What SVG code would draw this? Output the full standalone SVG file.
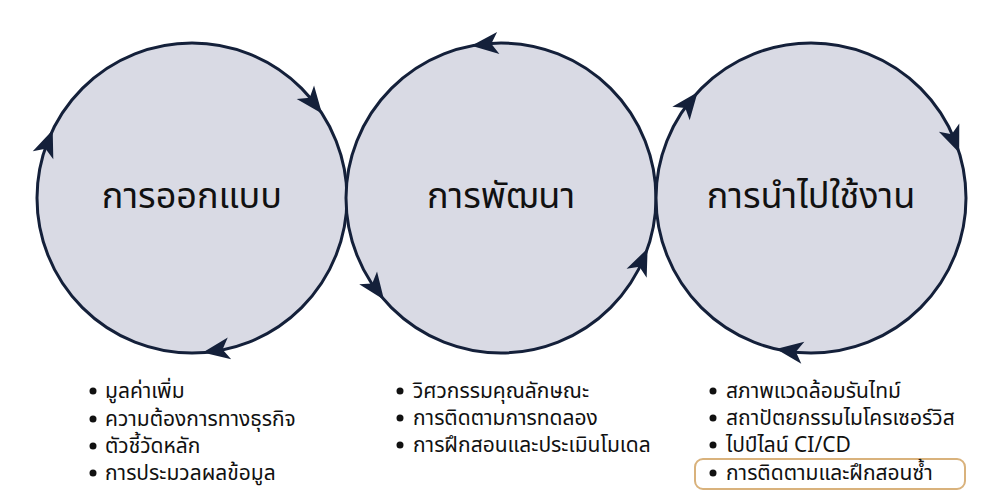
<svg xmlns="http://www.w3.org/2000/svg" width="1000" height="500" viewBox="0 0 1000 500">
<style>
.c{fill:#d9dae4;stroke:#14203a;stroke-width:3}
.t{font-family:"Noto Sans Thai","Noto Sans","Noto Sans CJK SC",sans-serif;fill:#111;}
.title{font-size:36px;text-anchor:middle}
.li{font-size:21px}
.dot{fill:#111}
.hl{fill:none;stroke:#d9b27c;stroke-width:2}
</style>
<defs>
<path id="ah" d="M0,0 L-27,-11 L-20,0 L-27,11 Z" fill="#14203a"/>
</defs>
<rect width="1000" height="500" fill="#ffffff"/>
<g id="node-design">
<circle class="c" cx="192" cy="198" r="155"/>
<text class="t title" x="192" y="208">การออกแบบ</text>
</g>
<g id="node-develop">
<circle class="c" cx="501" cy="198" r="155"/>
<text class="t title" x="501" y="208">การพัฒนา</text>
</g>
<g id="node-deploy">
<circle class="c" cx="811" cy="198" r="155"/>
<text class="t title" x="811" y="208">การนำไปใช้งาน</text>
</g>
<g id="connectors">
<use href="#ah" transform="translate(322,113.6) rotate(52)"/>
<use href="#ah" transform="translate(52.7,130) rotate(291)"/>
<use href="#ah" transform="translate(202.8,352.6) rotate(171)"/>
<use href="#ah" transform="translate(471.4,45.8) rotate(174)"/>
<use href="#ah" transform="translate(384,299.7) rotate(54)"/>
<use href="#ah" transform="translate(647.6,248.5) rotate(-66)"/>
<use href="#ah" transform="translate(697.6,92.3) rotate(-52)"/>
<use href="#ah" transform="translate(959.2,152.7) rotate(68)"/>
<use href="#ah" transform="translate(776.1,349) rotate(188)"/>
</g>
<g id="list-design">
<circle class="dot" cx="93" cy="391" r="3.5"/>
<circle class="dot" cx="93" cy="419" r="3.5"/>
<circle class="dot" cx="93" cy="446" r="3.5"/>
<circle class="dot" cx="93" cy="473" r="3.5"/>
<text class="t li" x="105" y="398">มูลค่าเพิ่ม</text>
<text class="t li" x="105" y="426">ความต้องการทางธุรกิจ</text>
<text class="t li" x="105" y="453">ตัวชี้วัดหลัก</text>
<text class="t li" x="105" y="480">การประมวลผลข้อมูล</text>
</g>
<g id="list-develop">
<circle class="dot" cx="400" cy="391" r="3.5"/>
<circle class="dot" cx="400" cy="418" r="3.5"/>
<circle class="dot" cx="400" cy="445" r="3.5"/>
<text class="t li" x="413" y="398">วิศวกรรมคุณลักษณะ</text>
<text class="t li" x="413" y="425">การติดตามการทดลอง</text>
<text class="t li" x="413" y="452">การฝึกสอนและประเมินโมเดล</text>
</g>
<g id="list-deploy">
<rect class="hl" x="695" y="459" width="270" height="30" rx="8"/>
<circle class="dot" cx="713" cy="391" r="3.5"/>
<circle class="dot" cx="713" cy="418" r="3.5"/>
<circle class="dot" cx="713" cy="445" r="3.5"/>
<circle class="dot" cx="713" cy="473" r="3.5"/>
<text class="t li" x="726" y="398">สภาพแวดล้อมรันไทม์</text>
<text class="t li" x="726" y="425">สถาปัตยกรรมไมโครเซอร์วิส</text>
<text class="t li" x="726" y="452">ไปป์ไลน์ CI/CD</text>
<text class="t li" x="726" y="480">การติดตามและฝึกสอนซ้ำ</text>
</g>
</svg>
